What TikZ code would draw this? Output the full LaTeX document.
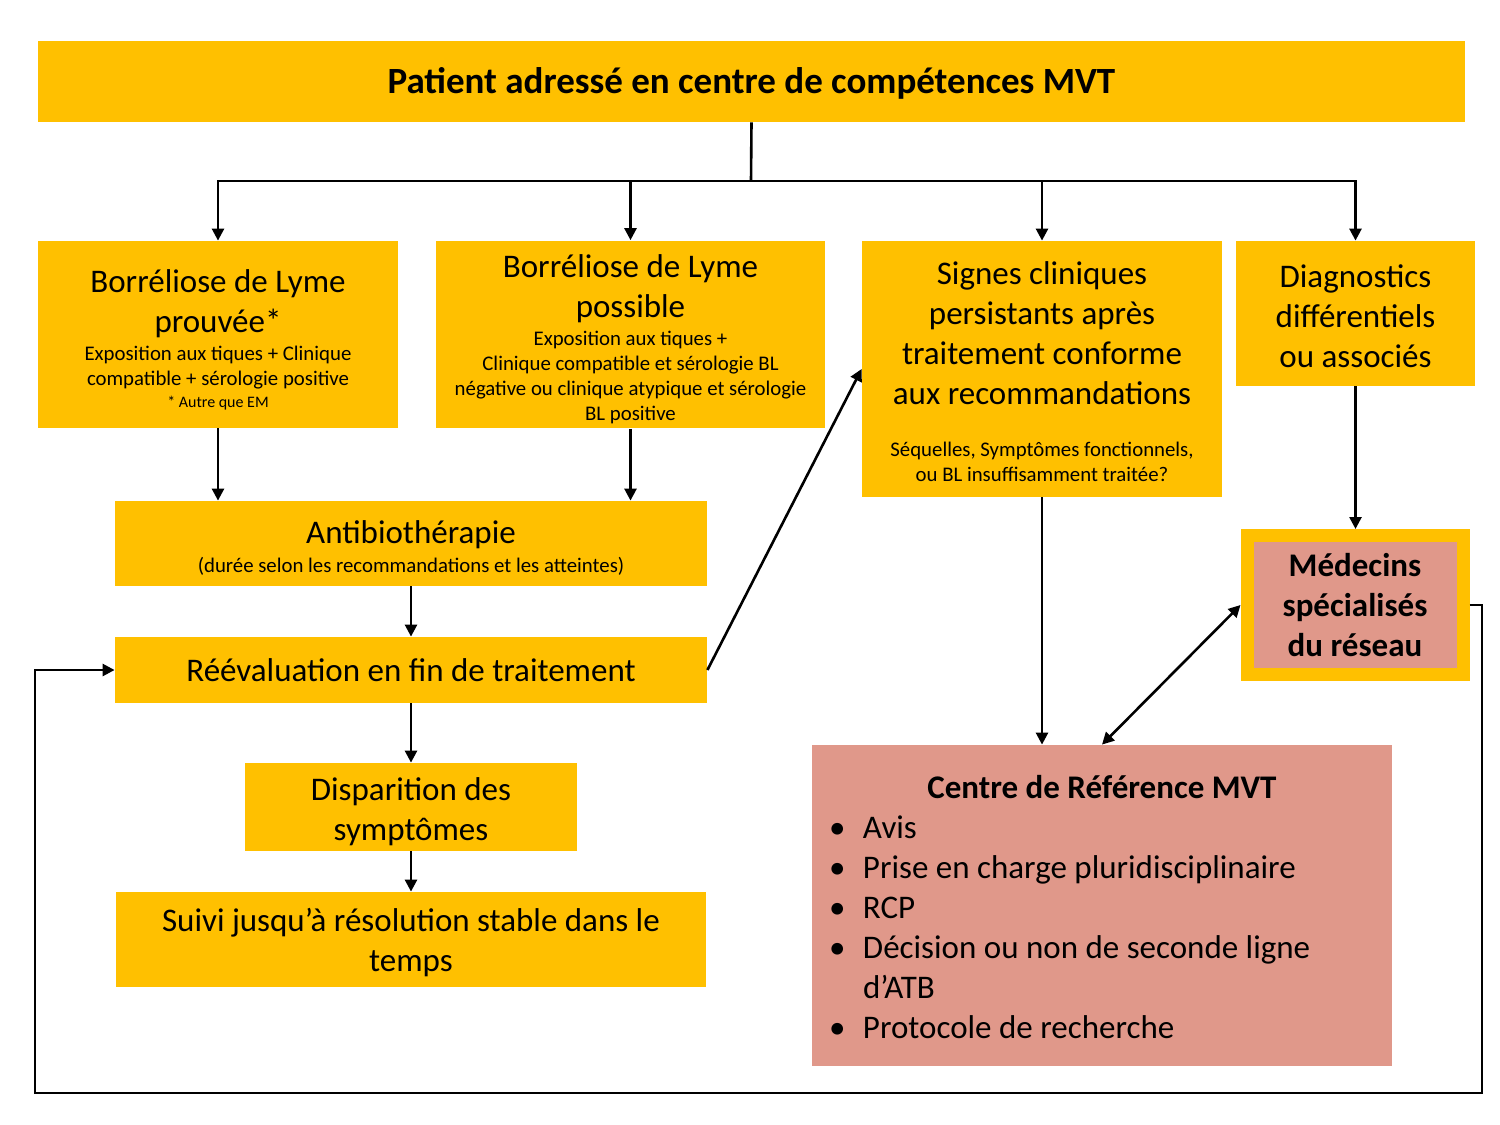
\documentclass[tikz,border=0pt]{standalone}
\usepackage{fontspec}
\setmainfont{Carlito}
\usetikzlibrary{arrows.meta}
\definecolor{mvtorange}{RGB}{255,192,0}
\definecolor{mvtpink}{RGB}{224,152,138}
\newcommand{\grand}{\fontsize{16.5}{20}\selectfont}
\newcommand{\petit}{\fontsize{10.4}{12.5}\selectfont}
\newcommand{\sousbloc}[1]{{\petit\begin{tabular}[t]{@{}c@{}}#1\end{tabular}}}
\newcommand{\haut}[1]{\rule{0pt}{#1}}
\begin{document}
\begin{tikzpicture}[x=0.5pt,y=-0.5pt,
box/.style={fill=mvtorange,inner sep=0pt,align=center,font=\grand},
arr/.style={line width=1.3pt,-{Triangle[length=6pt,width=6pt]}}]
\useasboundingbox(0,0)rectangle(1500,1125);
\node[box,minimum width=713.5pt,minimum height=40.5pt,font=\fontsize{18.5}{20}\selectfont\bfseries](title)at(751.5,81.5){\haut{15pt}Patient adressé en centre de compétences MVT};
\node[box,minimum width=180pt,minimum height=93.5pt](prouvee)at(218,334.5){\haut{19.7pt}Borréliose de Lyme\\prouvée*\\[-6pt]
\sousbloc{Exposition aux tiques + Clinique\\compatible + sérologie positive\\[-1.5pt]\fontsize{8}{10}\selectfont * Autre que EM}};
\node[box,minimum width=194.5pt,minimum height=93.5pt](possible)at(630.5,334.5){\haut{18.7pt}Borréliose de Lyme\\possible\\[-6pt]
\sousbloc{Exposition aux tiques +\\Clinique compatible et sérologie BL\\négative ou clinique atypique et sérologie\\BL positive}};
\node[box,minimum width=180pt,minimum height=128pt](signes)at(1042,369){\haut{17.7pt}Signes cliniques\\persistants après\\traitement conforme\\aux recommandations\\[6pt]
\sousbloc{Séquelles, Symptômes fonctionnels,\\ou BL insuffisamment traitée?}};
\node[box,minimum width=119.5pt,minimum height=72.5pt](diag)at(1355.5,313.5){\haut{14.5pt}Diagnostics\\différentiels\\ou associés};
\node[box,minimum width=296pt,minimum height=42.5pt](antibio)at(411,543.5){\haut{18.2pt}Antibiothérapie\\[-5.5pt]\sousbloc{(durée selon les recommandations et les atteintes)}};
\node[box,minimum width=296pt,minimum height=33pt](reeval)at(411,670){Réévaluation en fin de traitement};
\node[box,minimum width=166pt,minimum height=44pt](dispar)at(411,807){\haut{16.5pt}Disparition des\\symptômes};
\node[box,minimum width=295pt,minimum height=47.5pt](suivi)at(411,939.5){\haut{14.7pt}Suivi jusqu’à résolution stable dans le\\temps};
\node[box,fill=mvtpink,draw=mvtorange,line width=6.5pt,minimum width=108pt,minimum height=69.5pt,font=\grand\bfseries](med)at(1355,605){Médecins\\spécialisés\\du réseau};
\node[box,fill=mvtpink,minimum width=290pt,minimum height=160.5pt](centre)at(1102,905.5){\begin{tabular}{@{}p{17pt}@{}p{256pt}@{}}
\multicolumn{2}{@{}c@{}}{\haut{19pt}\bfseries Centre de Référence MVT}\\
\textbullet&Avis\\
\textbullet&Prise en charge pluridisciplinaire\\
\textbullet&RCP\\
\textbullet&Décision ou non de seconde ligne\\
&d’ATB\\
\textbullet&Protocole de recherche
\end{tabular}};
\coordinate(fork)at(751,181);
\draw[line width=1.3pt](title.south)--(fork);
\foreach\n in{prouvee,possible,signes,diag}{
\draw[arr](fork)-|(\n.north);}
\draw[arr](prouvee.south)--(prouvee.south|-antibio.north);
\draw[arr](possible.south)--(possible.south|-antibio.north);
\draw[arr](antibio)--(reeval);
\draw[arr](reeval)--(dispar);
\draw[arr](dispar)--(suivi);
\draw[arr](reeval.east)--(signes.west);
\draw[arr](signes.south)--(signes.south|-centre.north);
\draw[arr](diag.south)--(diag.south|-med.north);
\draw[line width=1.3pt,{Triangle[length=6pt,width=6pt]}-{Triangle[length=6pt,width=6pt]}](centre.north)--(med.west);
\coordinate(loopr)at(1482,1093);
\coordinate(loopl)at(35,1093);
\draw[arr](med.east)-|(loopr)--(loopl)|-(reeval.west);
\end{tikzpicture}
\end{document}
